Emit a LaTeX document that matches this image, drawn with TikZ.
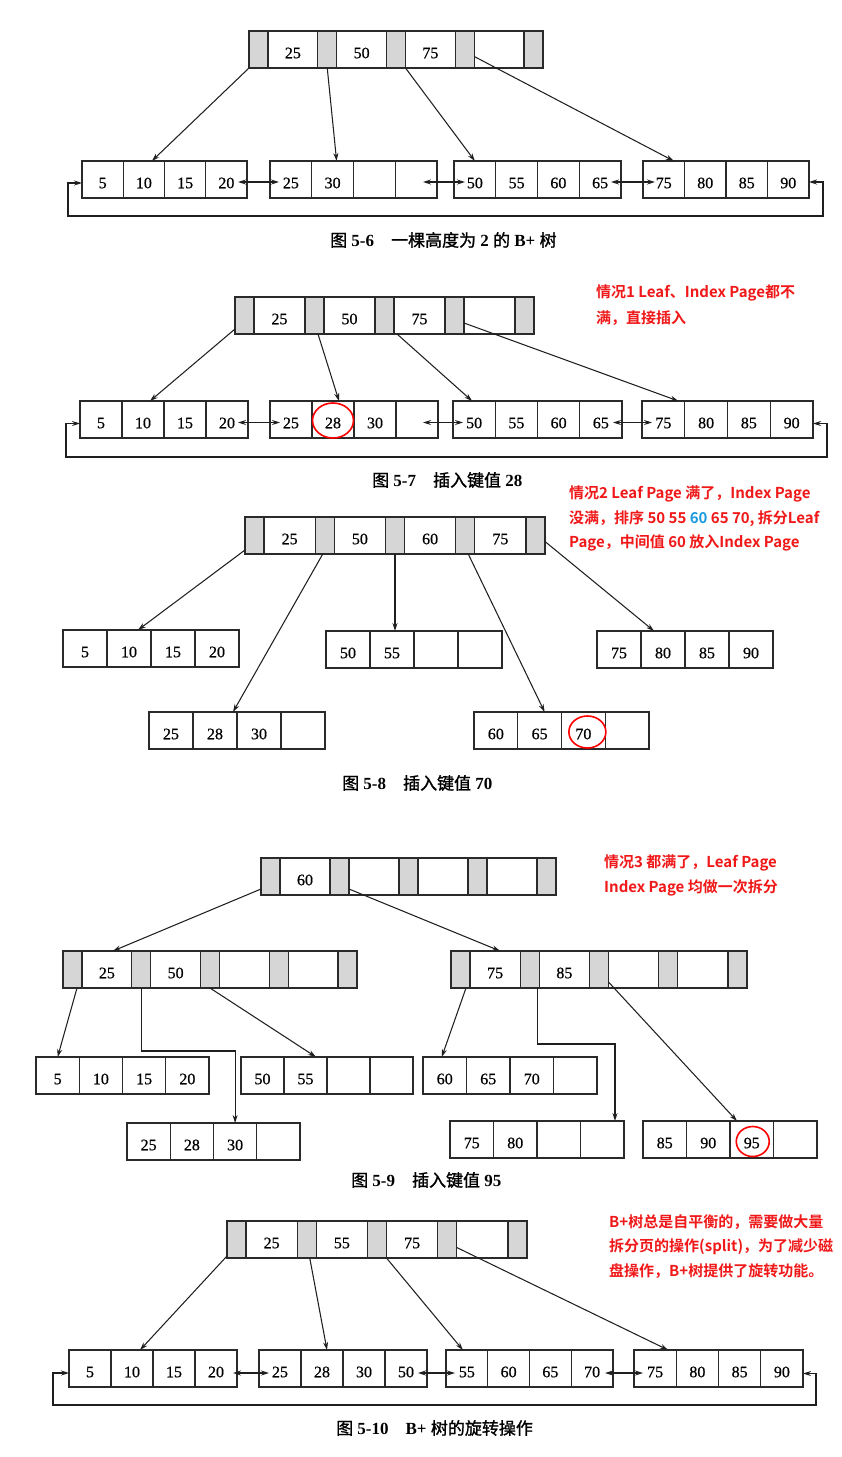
\documentclass[tikz,border=0pt]{standalone}
\usepackage{fontspec}
\setmainfont{Liberation Serif}
\newfontfamily\numfont{Liberation Serif}[FakeBold=0.6]
\newfontfamily\cjk{Noto Sans CJK SC}[FakeBold=1.2]
\newfontfamily\cjkbf{Noto Sans CJK SC Bold}
\usetikzlibrary{arrows.meta}
\definecolor{pagegray}{HTML}{D6D6D6}
\definecolor{boxline}{HTML}{2A2A2A}
\definecolor{notered}{HTML}{F01818}
\definecolor{noteblue}{HTML}{1A9BE0}
\tikzset{
  cellbase/.style={draw=boxline, line width=1.25pt, outer sep=0pt, inner sep=0pt,
    minimum height=37pt, font=\numfont\fontsize{16}{18}\selectfont, text height=17.5pt, text depth=0pt},
  lcell/.style={cellbase, fill=white},
  icell/.style={cellbase, fill=white},
  gcell/.style={cellbase, fill=pagegray, minimum width=19pt},
  link/.style={draw=black!88, line width=1.05pt, -{Stealth[length=8pt,width=5pt]}},
  dlink/.style={draw=black!88, line width=1.05pt, {Stealth[length=8pt,width=5pt]}-{Stealth[length=8pt,width=5pt]}},
  hl/.style={draw=red, line width=1.6pt},
  rednote/.style={text=notered, font=\cjkbf\fontsize{15}{18}\selectfont, anchor=west, inner sep=0pt},
  figcap/.style={font=\fontsize{17}{20}\selectfont, anchor=west, inner sep=0pt}
}
\newcommand{\leafpg}[8]{%
  \pgfmathsetmacro{\pgcw}{#4/4}%
  \node[lcell, minimum width=\pgcw pt, anchor=north west] (#1-1) at (#2,#3) {#5};
  \node[lcell, minimum width=\pgcw pt, anchor=north west] (#1-2) at (#1-1.north east) {#6};
  \node[lcell, minimum width=\pgcw pt, anchor=north west] (#1-3) at (#1-2.north east) {#7};
  \node[lcell, minimum width=\pgcw pt, anchor=north west] (#1-4) at (#1-3.north east) {#8};
}
\newcommand{\idxpg}[8]{%
  \pgfmathsetmacro{\pgcw}{(#4-95)/4}%
  \node[gcell, anchor=north west] (#1-g0) at (#2,#3) {};
  \node[icell, minimum width=\pgcw pt, anchor=north west] (#1-k1) at (#1-g0.north east) {#5};
  \node[gcell, anchor=north west] (#1-g1) at (#1-k1.north east) {};
  \node[icell, minimum width=\pgcw pt, anchor=north west] (#1-k2) at (#1-g1.north east) {#6};
  \node[gcell, anchor=north west] (#1-g2) at (#1-k2.north east) {};
  \node[icell, minimum width=\pgcw pt, anchor=north west] (#1-k3) at (#1-g2.north east) {#7};
  \node[gcell, anchor=north west] (#1-g3) at (#1-k3.north east) {};
  \node[icell, minimum width=\pgcw pt, anchor=north west] (#1-k4) at (#1-g3.north east) {#8};
  \node[gcell, anchor=north west] (#1-g4) at (#1-k4.north east) {};
}
\begin{document}
\begin{tikzpicture}[x=1pt, y=-1pt]
\fill[white] (0,0) rectangle (842,1457);
\useasboundingbox (0,0) rectangle (842,1457);

% ---------------- Fig 5-6 ----------------
\idxpg{a-R}{249}{31}{294}{25}{50}{75}{}
\leafpg{a-L1}{82}{161}{165}{5}{10}{15}{20}
\leafpg{a-L2}{270}{161}{167}{25}{30}{}{}
\leafpg{a-L3}{454}{161}{167}{50}{55}{60}{65}
\leafpg{a-L4}{643}{161}{166}{75}{80}{85}{90}
\draw[link] (a-R-g0.south west) -- ([xshift=8pt]a-L1-2.north);
\draw[link] (a-R-g1.south) -- ([xshift=4pt]a-L2-2.north);
\draw[link] (a-R-g2.south east) -- (a-L3-1.north);
\draw[link] ([yshift=-7pt]a-R-g3.east) -- ([xshift=10pt]a-L4-1.north);
\draw[dlink] ([xshift=-9pt,yshift=-2.5pt]a-L1-4.east) -- ([xshift=9pt,yshift=-2.5pt]a-L2-1.west);
\draw[dlink] ([xshift=-14pt,yshift=-2.5pt]a-L2-4.east) -- ([xshift=11pt,yshift=-2.5pt]a-L3-1.west);
\draw[dlink] ([xshift=-10pt,yshift=-2.5pt]a-L3-4.east) -- ([xshift=12pt,yshift=-2.5pt]a-L4-1.west);
\coordinate (a-loop) at (823,216);
\draw[dlink] ([yshift=-3.5pt]a-L1-1.west) -- ++(-14,0) |- (a-loop) |- ([yshift=-2.5pt]a-L4-4.east);
\node[figcap] (a-cap) at (330,240) {{\cjk 图} \textbf{5-6}\hspace{1em}{\cjk 一棵高度为} \textbf{2} {\cjk 的} \textbf{B+} {\cjk 树}};

% ---------------- Fig 5-7 ----------------
\idxpg{b-R}{235}{297}{299}{25}{50}{75}{}
\leafpg{b-L1}{80}{401}{168}{5}{10}{15}{20}
\leafpg{b-L2}{270}{401}{168}{25}{28}{30}{}
\leafpg{b-L3}{453}{401}{169}{50}{55}{60}{65}
\leafpg{b-L4}{642}{401}{171}{75}{80}{85}{90}
\draw[link] ([yshift=5pt]b-R-g0.south west) -- ([xshift=7pt]b-L1-2.north);
\draw[link] ([xshift=3.5pt]b-R-g1.south) -- ([xshift=6pt]b-L2-2.north);
\draw[link] ([xshift=3pt]b-R-g2.south east) -- ([xshift=-2pt]b-L3-1.north);
\draw[link] ([yshift=-7.5pt]b-R-g3.east) -- ([xshift=15pt]b-L4-1.north);
\draw[dlink] ([xshift=-10pt,yshift=-3pt]b-L1-4.east) -- ([xshift=10pt,yshift=-3pt]b-L2-1.west);
\draw[dlink] ([xshift=-15pt,yshift=-3pt]b-L2-4.east) -- ([xshift=10pt,yshift=-3pt]b-L3-1.west);
\draw[dlink] ([xshift=-9pt,yshift=-3pt]b-L3-4.east) -- ([xshift=10pt,yshift=-3pt]b-L4-1.west);
\coordinate (b-loop) at (827,457);
\draw[dlink] ([yshift=-4pt]b-L1-1.west) -- ++(-14,0) |- (b-loop) |- ([yshift=-4pt]b-L4-4.east);
\draw[hl] ([yshift=-1pt]b-L2-2.center) ellipse [x radius=20.5pt, y radius=17.5pt];
\node[figcap] (b-cap) at (372,480) {{\cjk 图} \textbf{5-7}\hspace{1em}{\cjk 插入键值} \textbf{28}};
\node[rednote] (b-n1) at (596,293) {情况1 Leaf、Index Page都不};
\node[rednote] (b-n2) at (596,318) {满，直接插入};

% ---------------- Fig 5-8 ----------------
\idxpg{c-R}{245}{517}{300}{25}{50}{60}{75}
\leafpg{c-L1}{63}{630}{176}{5}{10}{15}{20}
\leafpg{c-L2}{326}{631}{176}{50}{55}{}{}
\leafpg{c-L3}{149}{712}{176}{25}{28}{30}{}
\leafpg{c-L4}{597}{631}{176}{75}{80}{85}{90}
\leafpg{c-L5}{474}{712}{175}{60}{65}{70}{}
\draw[link] ([yshift=4pt]c-R-g0.south west) -- ([xshift=9pt]c-L1-2.north);
\draw[link] ([xshift=-2pt]c-R-g1.south) -- ([xshift=-4pt]c-L3-2.north east);
\draw[link] (c-R-g2.south) -- (c-R-g2.south |- c-L2-2.north);
\draw[link] ([xshift=3pt]c-R-g3.south) -- ([xshift=5pt]c-L5-2.north);
\draw[link] ([yshift=-6pt]c-R-g4.east) -- ([xshift=-9pt]c-L4-2.north);
\draw[hl] ([xshift=4pt,yshift=-1.5pt]c-L5-3.center) ellipse [x radius=18.5pt, y radius=16pt];
\node[figcap] (c-cap) at (342,783) {{\cjk 图} \textbf{5-8}\hspace{1em}{\cjk 插入键值} \textbf{70}};
\node[rednote] (c-n1) at (569,494) {情况2 Leaf Page 满了，Index Page};
\node[rednote] (c-n2) at (569,519) {没满，排序 50 55 {\color{noteblue}60} 65 70, 拆分Leaf};
\node[rednote] (c-n3) at (569,543) {Page，中间值 60 放入Index Page};

% ---------------- Fig 5-9 ----------------
\idxpg{d-R}{261}{858}{295}{60}{}{}{}
\idxpg{d-A}{63}{951}{294}{25}{50}{}{}
\idxpg{d-B}{451}{951}{296}{75}{85}{}{}
\leafpg{d-L1}{36}{1057}{173}{5}{10}{15}{20}
\leafpg{d-L2}{241}{1057}{172}{50}{55}{}{}
\leafpg{d-L3}{127}{1123}{173}{25}{28}{30}{}
\leafpg{d-L4}{423}{1057}{174}{60}{65}{70}{}
\leafpg{d-L5}{450}{1121}{174}{75}{80}{}{}
\leafpg{d-L6}{643}{1121}{174}{85}{90}{95}{}
\draw[link] ([yshift=6pt]d-R-g0.south west) -- ([xshift=6pt]d-A-k1.north);
\draw[link] ([yshift=6pt]d-R-g1.south east) -- ([xshift=5pt]d-B-k1.north);
\draw[link] ([xshift=4.5pt]d-A-g0.south) -- (d-L1-1.north);
\draw[link] (d-A-g1.south) -- ++(0,63) -| (d-L3-3.north);
\draw[link] (d-A-g2.south) -- ([xshift=-11pt]d-L2-2.north east);
\draw[link] ([xshift=-4pt]d-B-g0.south east) -- ([xshift=-3pt]d-L4-1.north);
\draw[link] ([xshift=8pt]d-B-g1.south) -- ++(0,56) -| ([xshift=-9pt]d-L5-4.north east);
\draw[link] ([yshift=6pt]d-B-g2.south east) -- ([xshift=7pt]d-L6-3.north west);
\draw[hl] ([xshift=1pt,yshift=-2pt]d-L6-3.center) ellipse [x radius=16.5pt, y radius=15pt];
\node[figcap] (d-cap) at (351,1180) {{\cjk 图} \textbf{5-9}\hspace{1em}{\cjk 插入键值} \textbf{95}};
\node[rednote] (d-n1) at (604,863) {情况3 都满了，Leaf Page};
\node[rednote] (d-n2) at (604,888) {Index Page 均做一次拆分};

% ---------------- Fig 5-10 ----------------
\idxpg{e-R}{227}{1221}{300}{25}{55}{75}{}
\leafpg{e-L1}{69}{1350}{168}{5}{10}{15}{20}
\leafpg{e-L2}{259}{1350}{168}{25}{28}{30}{50}
\leafpg{e-L3}{446}{1350}{167}{55}{60}{65}{70}
\leafpg{e-L4}{634}{1350}{169}{75}{80}{85}{90}
\draw[link] ([yshift=2pt]e-R-g0.south west) -- ([xshift=8pt]e-L1-2.north);
\draw[link] ([xshift=3pt]e-R-g1.south) -- ([xshift=5pt]e-L2-2.north);
\draw[link] (e-R-g2.south east) -- ([xshift=-4pt]e-L3-1.north);
\draw[link] ([yshift=-8pt]e-R-g3.east) -- ([xshift=13pt]e-L4-1.north);
\draw[dlink] ([xshift=-4pt,yshift=-4.5pt]e-L1-4.east) -- ([xshift=10pt,yshift=-4.5pt]e-L2-1.west);
\draw[dlink] ([xshift=-9pt,yshift=-4.5pt]e-L2-4.east) -- ([xshift=9pt,yshift=-4.5pt]e-L3-1.west);
\draw[dlink] ([xshift=-8pt,yshift=-4.5pt]e-L3-4.east) -- ([xshift=9pt,yshift=-4.5pt]e-L4-1.west);
\coordinate (e-loop) at (816,1405);
\draw[dlink] ([yshift=-4.5pt]e-L1-1.west) -- ++(-16,0) |- (e-loop) |- ([yshift=-5pt]e-L4-4.east);
\node[figcap] (e-cap) at (336,1428) {{\cjk 图} \textbf{5-10}\hspace{1em}\textbf{B+} {\cjk 树的旋转操作}};
\node[rednote] (e-n1) at (609,1222) {B+树总是自平衡的，需要做大量};
\node[rednote] (e-n2) at (609,1247) {拆分页的操作(split)，为了减少磁};
\node[rednote] (e-n3) at (609,1271) {盘操作，B+树提供了旋转功能。};
\end{tikzpicture}
\end{document}
